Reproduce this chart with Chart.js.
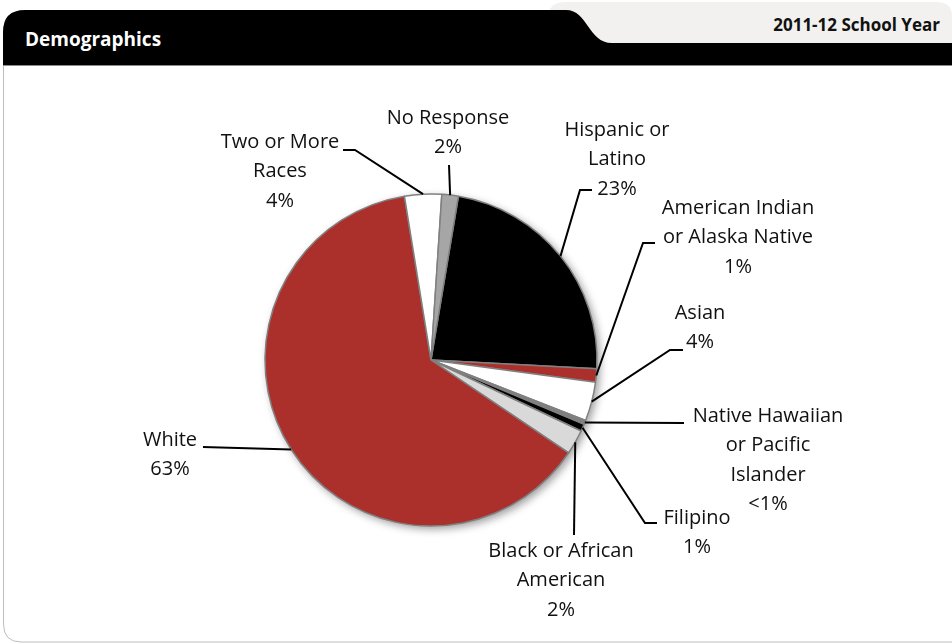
<!DOCTYPE html>
<html lang="en">
<head>
<meta charset="UTF-8">
<title>Demographics</title>
<script src="https://cdn.jsdelivr.net/npm/chart.js@4.4.1/dist/chart.umd.min.js"></script>
<style>
    html, body {
        margin: 0;
        padding: 0;
        background: #fff;
    }
    .page {
        position: relative;
        width: 952px;
        height: 644px;
        overflow: hidden;
    }
    .page svg, .page .chart-box {
        position: absolute;
        left: 0;
        top: 0;
    }
    .title {
        position: absolute;
        left: 25px;
        top: 26px;
        font: bold 19px 'Open Sans', sans-serif;
        color: #fff;
    }
    .year {
        position: absolute;
        right: 12px;
        top: 13px;
        font: bold 17px 'Open Sans', sans-serif;
        color: #111;
    }
</style>
</head>
<body>
<div class="page">
    <svg width="952" height="644">
        <path d="M548,43 L548,18 Q548,2 566,2 L936,2 Q952,2 952,16 L952,43 Z" fill="#f2f1ef"/>
        <path d="M3,65 L3,32 Q3,10 25,10 L566,10 C588,10 588,43 612,43 L952,43 L952,65 Z" fill="#000"/>
        <path d="M3.5,65 L3.5,624 Q3.5,642 21,642 L952,642" fill="none" stroke="#bdbdbd" stroke-width="1"/>
        <line x1="3" y1="65.5" x2="952" y2="65.5" stroke="#8a8a8a" stroke-width="1"/>
    </svg>
    <div class="title">Demographics</div>
    <div class="year">2011-12 School Year</div>
    <div class="chart-box" style="width:952px;height:644px;">
        <canvas id="pie"></canvas>
    </div>
</div>

<script>
// categories in drawing order, clockwise from just right of 12 o'clock
const categories = ['Hispanic or Latino', 'American Indian or Alaska Native', 'Asian',
    'Native Hawaiian or Pacific Islander', 'Filipino', 'Black or African American',
    'White', 'Two or More Races', 'No Response'];
const shares = [23.2, 1.3, 3.8, 0.4, 0.7, 2.4, 63.0, 3.6, 1.6];
const shareLabels = ['23%', '1%', '4%', '<1%', '1%', '2%', '63%', '4%', '2%'];
const labelLines = [
    ['Hispanic or', 'Latino'],
    ['American Indian', 'or Alaska Native'],
    ['Asian'],
    ['Native Hawaiian', 'or Pacific', 'Islander'],
    ['Filipino'],
    ['Black or African', 'American'],
    ['White'],
    ['Two or More', 'Races'],
    ['No Response']
];
const sliceColors = ['#000000', '#ab2f2b', '#ffffff', '#7f7f7f', '#000000',
    '#d9d9d9', '#ab2f2b', '#ffffff', '#a6a6a6'];

// label layout: text centre x, first line y, and leader points after the slice edge
const labelLayout = [
    {x: 617, y: 130, path: [[580, 190], [592, 190]]},
    {x: 738, y: 208, path: [[643, 243], [655, 243]]},
    {x: 700, y: 313, path: [[670, 350], [683, 350]]},
    {x: 768, y: 416, path: [[684, 423]]},
    {x: 697, y: 518, path: [[645, 523], [657, 523]]},
    {x: 561, y: 551, path: [[574, 535]]},
    {x: 170, y: 440, path: [[203, 447]]},
    {x: 280, y: 142, path: [[355, 150], [343, 150]]},
    {x: 448, y: 118, path: [[449, 165]]}
];

const pieShadow = {
    id: 'pieShadow',
    beforeDatasetsDraw(chart) {
        const arc = chart.getDatasetMeta(0).data[0];
        if (!arc) return;
        const ctx = chart.ctx;
        ctx.save();
        ctx.shadowColor = 'rgba(0,0,0,0.4)';
        ctx.shadowBlur = 8;
        ctx.shadowOffsetX = 3;
        ctx.shadowOffsetY = 3;
        ctx.beginPath();
        ctx.arc(arc.x, arc.y, arc.outerRadius, 0, Math.PI * 2);
        ctx.fillStyle = '#fff';
        ctx.fill();
        ctx.restore();
    }
};

const leaderLabels = {
    id: 'leaderLabels',
    afterDatasetsDraw(chart) {
        const ctx = chart.ctx;
        const arcs = chart.getDatasetMeta(0).data;
        ctx.save();
        arcs.forEach((arc, i) => {
            const mid = (arc.startAngle + arc.endAngle) / 2;
            const sx = arc.x + Math.cos(mid) * arc.outerRadius;
            const sy = arc.y + Math.sin(mid) * arc.outerRadius;
            const lay = labelLayout[i];
            ctx.beginPath();
            ctx.moveTo(sx, sy);
            lay.path.forEach(p => ctx.lineTo(p[0], p[1]));
            ctx.strokeStyle = '#000';
            ctx.lineWidth = 2;
            ctx.stroke();

            const lines = labelLines[i].concat([shareLabels[i]]);
            ctx.fillStyle = '#111';
            ctx.font = '20px "Open Sans", sans-serif';
            ctx.textAlign = 'center';
            ctx.textBaseline = 'middle';
            lines.forEach((t, k) => ctx.fillText(t, lay.x, lay.y + k * 29.5));
        });
        ctx.restore();
    }
};

const cx = 431, cy = 360, half = 200;
new Chart(document.getElementById('pie'), {
    type: 'pie',
    data: {
        labels: categories,
        datasets: [{
            data: shares,
            backgroundColor: sliceColors,
            borderColor: '#808080',
            borderWidth: 1.5,
            hoverOffset: 0
        }]
    },
    options: {
        responsive: true,
        maintainAspectRatio: false,
        animation: false,
        rotation: 9.5,
        radius: 166,
        layout: {
            padding: {left: cx - half, right: 952 - cx - half, top: cy - half, bottom: 644 - cy - half}
        },
        plugins: {
            legend: {display: false},
            tooltip: {enabled: false}
        }
    },
    plugins: [pieShadow, leaderLabels]
});
</script>
</body>
</html>
